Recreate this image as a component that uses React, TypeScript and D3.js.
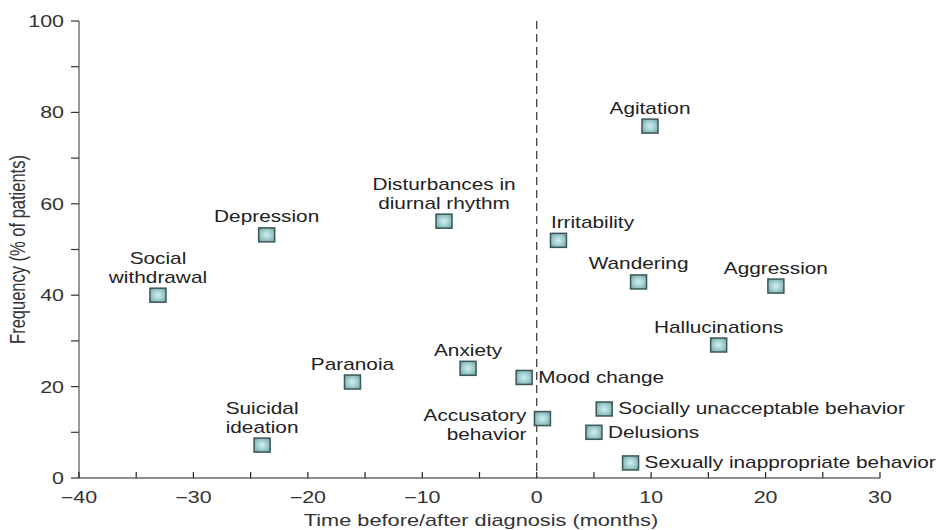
import React from "react";
import * as d3 from "d3";

const symptoms = [
  "Social withdrawal", "Depression", "Disturbances in diurnal rhythm", "Paranoia", "Anxiety",
  "Suicidal ideation", "Mood change", "Accusatory behavior", "Irritability", "Agitation",
  "Wandering", "Aggression", "Hallucinations", "Socially unacceptable behavior", "Delusions",
  "Sexually inappropriate behavior",
];
const months = [-33.1, -23.6, -8.1, -16.1, -6.0, -24.0, -1.1, 0.5, 1.9, 9.9, 8.9, 20.9, 15.9, 5.9, 5.0, 8.2];
const frequency = [40, 53.2, 56.2, 21, 24, 7.2, 22, 13, 52, 77, 42.9, 42, 29.1, 15.1, 10, 3.3];
const labelLines = [
  ["Social", "withdrawal"], ["Depression"], ["Disturbances in", "diurnal rhythm"], ["Paranoia"], ["Anxiety"],
  ["Suicidal", "ideation"], ["Mood change"], ["Accusatory", "behavior"], ["Irritability"], ["Agitation"],
  ["Wandering"], ["Aggression"], ["Hallucinations"], ["Socially unacceptable behavior"], ["Delusions"],
  ["Sexually inappropriate behavior"],
];
const labelPos = [
  "above", "above", "above", "above", "above", "above", "right", "left", "aboveRight", "above",
  "above", "above", "above", "right", "right", "right",
];
const xTicks = [-40, -30, -20, -10, 0, 10, 20, 30];
const yTicks = [0, 20, 40, 60, 80, 100];

function T(props: { x: number; y: number; anchor?: string; size: number; sx?: number; fill?: string; children: React.ReactNode }) {
  return (
    <text
      transform={`translate(${props.x},${props.y}) scale(${props.sx || 1.3},1)`}
      textAnchor={props.anchor || "start"}
      fontFamily="'Liberation Sans', Arial, Helvetica, sans-serif"
      fontSize={props.size}
      fill={props.fill || "#222"}
    >
      {props.children}
    </text>
  );
}

export default function App() {
  const W = 942, H = 530;
  const x = d3.scaleLinear().domain([-40, 30]).range([79, 880]);
  const y = d3.scaleLinear().domain([0, 100]).range([478, 21]);
  const mw = 16, mh = 14;
  const minorX = d3.range(-40, 31, 5);
  const minorY = d3.range(0, 101, 10);

  return (
    <svg width={W} height={H} style={{ position: "absolute", left: 0, top: 0, background: "#fff" }}>
      <defs>
        <radialGradient id="mg" cx="50%" cy="50%" r="65%">
          <stop offset="0%" stopColor="#d4efef" />
          <stop offset="60%" stopColor="#98c8ca" />
          <stop offset="100%" stopColor="#6d9fa2" />
        </radialGradient>
      </defs>
      <line x1={x(-40)} x2={x(30)} y1={y(0)} y2={y(0)} stroke="#222" strokeWidth={1.2} />
      <line x1={x(-40)} x2={x(-40)} y1={y(0)} y2={y(100)} stroke="#555" strokeWidth={1.2} />
      {minorX.map((t) => (
        <line key={"xt" + t} x1={x(t)} x2={x(t)} y1={y(0)} y2={y(0) - 6} stroke="#222" strokeWidth={1.2} />
      ))}
      {minorY.map((t) => (
        <line key={"yt" + t} x1={x(-40) - 8} x2={x(-40)} y1={y(t)} y2={y(t)} stroke="#333" strokeWidth={1.2} />
      ))}
      {xTicks.map((t) => (
        <T key={"xl" + t} x={x(t)} y={y(0) + 25} anchor="middle" size={16} sx={1.34} fill="#333">
          {t < 0 ? "\u2212" + Math.abs(t) : String(t)}
        </T>
      ))}
      {yTicks.map((t) => (
        <T key={"yl" + t} x={x(-40) - 15} y={y(t) + 6} anchor="end" size={16} sx={1.34} fill="#333">
          {String(t)}
        </T>
      ))}
      <T x={481} y={526} anchor="middle" size={16} sx={1.36} fill="#333">
        Time before/after diagnosis (months)
      </T>
      <text
        transform={`translate(25, ${y(50)}) scale(1.3,1) rotate(-90)`}
        textAnchor="middle"
        fontFamily="'Liberation Sans', Arial, sans-serif"
        fontSize={16.5}
        fill="#333"
      >
        Frequency (% of patients)
      </text>
      <line x1={x(0)} x2={x(0)} y1={y(100)} y2={y(0)} stroke="#333" strokeWidth={1.2} strokeDasharray="8,5" />
      {symptoms.map((s, i) => {
        const cx = x(months[i]);
        const cy = y(frequency[i]);
        const lines = labelLines[i];
        const pos = labelPos[i];
        const lh = 19;
        let labels: React.ReactNode = null;
        if (pos === "above" || pos === "aboveRight") {
          const lx = pos === "aboveRight" ? cx + 34 : cx;
          labels = lines.map((l, k) => (
            <T key={k} x={lx} y={cy - 12.5 - (lines.length - 1 - k) * lh} anchor="middle" size={16}>
              {l}
            </T>
          ));
        } else if (pos === "right") {
          labels = (
            <T x={cx + 14} y={cy + 5.5} size={16}>
              {lines[0]}
            </T>
          );
        } else {
          labels = lines.map((l, k) => (
            <T key={k} x={cx - 16} y={cy + 2 + k * lh} anchor="end" size={16}>
              {l}
            </T>
          ));
        }
        return (
          <g key={s}>
            {labels}
            <rect x={cx - mw / 2} y={cy - mh / 2} width={mw} height={mh} fill="url(#mg)" stroke="#3d5656" strokeWidth={1.5} />
          </g>
        );
      })}
    </svg>
  );
}
